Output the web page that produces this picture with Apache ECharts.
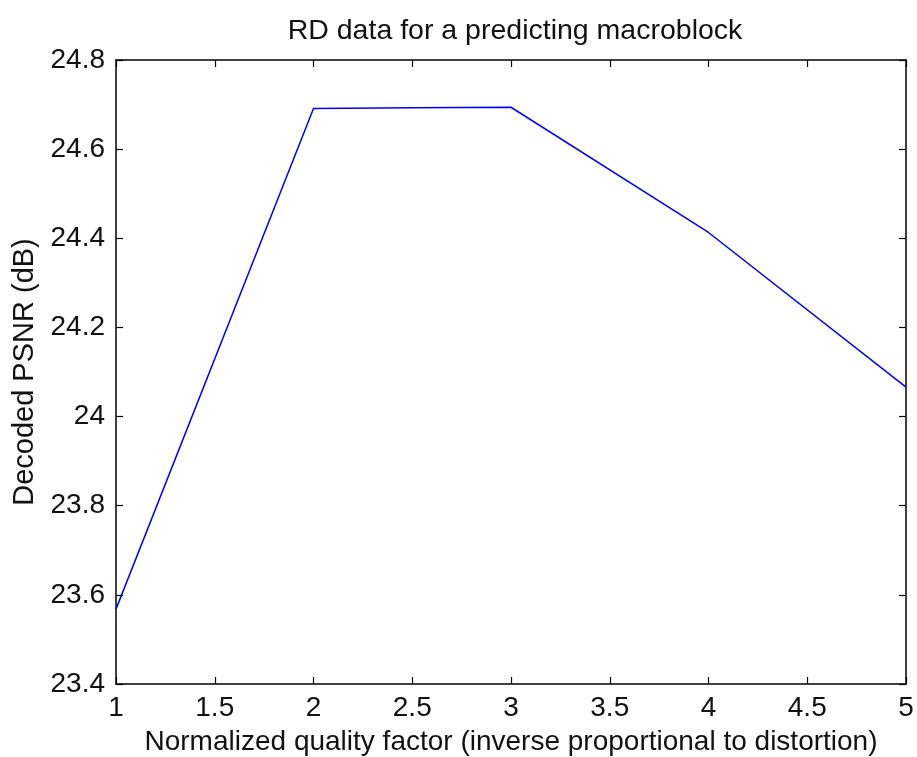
<!DOCTYPE html>
<html><head><meta charset="utf-8">
<script src="https://cdn.jsdelivr.net/npm/echarts@6/dist/echarts.min.js"></script>
<style>html,body{margin:0;padding:0;background:#fff}#c{width:917px;height:757px}</style>
</head><body><div id="c"></div>
<script>
var xValues = [1, 2, 2.5, 3, 4, 5];
var psnr = [23.568, 24.691, 24.693, 24.694, 24.413, 24.066];
var titleText = 'RD data for a predicting macroblock';
var xName = 'Normalized quality factor (inverse proportional to distortion)';
var yName = 'Decoded PSNR (dB)';

var chart = echarts.init(document.getElementById('c'), null, {renderer: 'canvas'});
var font = 'Liberation Sans, Arial, sans-serif';
var txt = '#111';
var axisLine = {show: true, lineStyle: {color: '#000', width: 1.5}};
var tickIn = {show: true, inside: true, length: 7, lineStyle: {color: '#000', width: 1.2}};
chart.setOption({
  backgroundColor: '#fff',
  animation: false,
  title: {text: titleText, left: 510, top: 12, textAlign: 'center',
    textStyle: {fontFamily: font, fontSize: 28.5, fontWeight: 'normal', color: txt}},
  grid: {left: 116, right: 11, top: 60, bottom: 73, containLabel: false, outerBoundsMode: 'none'},
  xAxis: [{
    type: 'value', min: 1, max: 5, interval: 0.5,
    axisLine: axisLine, axisTick: tickIn, splitLine: {show: false},
    axisLabel: {fontFamily: font, fontSize: 28, color: txt, margin: 10,
      formatter: function(v){return String(v);} },
    name: xName, nameLocation: 'middle', nameGap: 44,
    nameTextStyle: {fontFamily: font, fontSize: 28, color: txt}
  }, {
    type: 'value', min: 1, max: 5, interval: 0.5, position: 'top',
    axisLine: axisLine, axisTick: tickIn, axisLabel: {show: false}, splitLine: {show: false}
  }],
  yAxis: [{
    type: 'value', min: 23.4, max: 24.8, interval: 0.2,
    axisLine: axisLine, axisTick: tickIn, splitLine: {show: false},
    axisLabel: {fontFamily: font, fontSize: 28, color: txt, margin: 11,
      formatter: function(v){return String(Math.round(v*10)/10);} },
    name: yName, nameLocation: 'middle', nameGap: 73,
    nameTextStyle: {fontFamily: font, fontSize: 29, color: txt}
  }, {
    type: 'value', min: 23.4, max: 24.8, interval: 0.2, position: 'right',
    axisLine: axisLine, axisTick: tickIn, axisLabel: {show: false}, splitLine: {show: false}
  }],
  series: [{
    type: 'line', xAxisIndex: 0, yAxisIndex: 0,
    data: xValues.map(function(x, i){return [x, psnr[i]];}),
    showSymbol: false, symbol: 'none',
    lineStyle: {color: '#0000ff', width: 1.5}
  }]
});
</script></body></html>
